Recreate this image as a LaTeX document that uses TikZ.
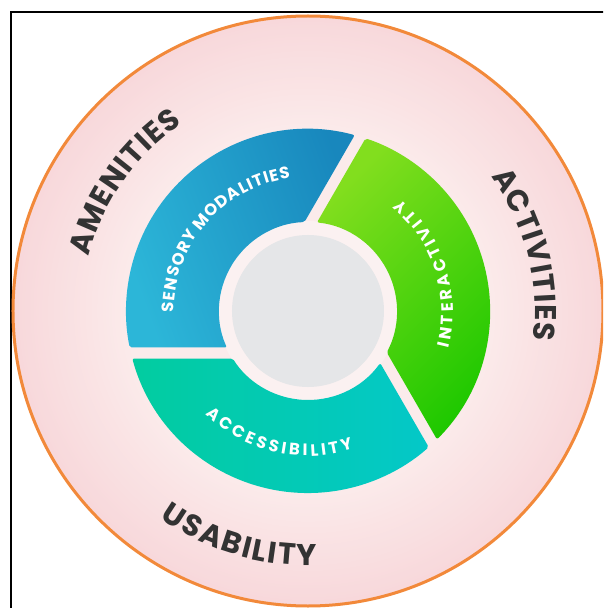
\documentclass[tikz,border=0pt]{standalone}
\usepackage{fontspec}
\setmainfont{Poppins}
\usetikzlibrary{decorations.text}
\definecolor{pinkin}{HTML}{FBEBEB}
\definecolor{pinkout}{HTML}{F8D8DB}
\definecolor{ringorange}{HTML}{F2893A}
\definecolor{paleC}{HTML}{FBF1F1}
\definecolor{grayC}{HTML}{E5E6E8}
\definecolor{blueA}{HTML}{2CB6D8}
\definecolor{blueB}{HTML}{1887BD}
\definecolor{greenA}{HTML}{82DE1E}
\definecolor{greenB}{HTML}{1EC800}
\definecolor{tealA}{HTML}{02CCA0}
\definecolor{tealB}{HTML}{04C8C8}
\definecolor{labeldark}{HTML}{333333}
\tikzset{
  seg/.style={rounded corners=2pt},
  outerlabel/.style={decorate, decoration={text along path, text align=center, text color=labeldark}},
  innerlabel/.style={decorate, decoration={text along path, text align=center, text color=white}}
}
\begin{document}
\begin{tikzpicture}[x=1pt,y=1pt]
\useasboundingbox (-308,-297) rectangle (295,311);
\clip (-308,-297) rectangle (295,311);
\fill[white] (-308,-297) rectangle (295,311);
\draw[black, line width=1.5] (-297,-310) -- (-297,299) -- (300,299);
% outer band, radial gradient by concentric discs
\foreach \i in {0,...,40} {
  \pgfmathsetmacro{\rr}{295-\i*2.9}
  \pgfmathsetmacro{\pp}{\i*2.5}
  \fill[pinkin!\pp!pinkout] (0,0) circle (\rr);
}
\draw[ringorange, line width=3] (0,0) circle (295);
% pale ring
\fill[paleC] (0,0) circle (90);
% segments
\shade[seg, bottom color=blueA, top color=blueB, shading angle=-70]
  (75.13:182) arc[start angle=75.13, end angle=191.57, radius=182]
  -- (204.21:89) arc[start angle=204.21, end angle=92.26, radius=89] -- cycle;
\shade[seg, bottom color=tealA, top color=tealB, shading angle=-90]
  (195.13:182) arc[start angle=195.13, end angle=311.57, radius=182]
  -- (324.21:89) arc[start angle=324.21, end angle=212.26, radius=89] -- cycle;
\shade[seg, bottom color=greenA, top color=greenB, shading angle=-135]
  (315.13:182) arc[start angle=315.13, end angle=431.57, radius=182]
  -- (444.21:89) arc[start angle=444.21, end angle=332.26, radius=89] -- cycle;
% center
\fill[grayC] (0,0) circle (76);
% outer labels
\path[outerlabel, decoration={text={|\bfseries\fontsize{30}{30}\selectfont|{A\kern1pt}{M\kern1pt}{E\kern1pt}{N\kern1pt}{I\kern1pt}{T\kern1pt}{I\kern1pt}{E\kern1pt}{S}}}]
  (185:225.5) arc[start angle=185, end angle=105, radius=225.5];
\path[outerlabel, decoration={text={|\bfseries\fontsize{30}{30}\selectfont|{A\kern1pt}{C\kern1pt}{T\kern1pt}{I\kern1pt}{V\kern1pt}{I\kern1pt}{T\kern1pt}{I\kern1pt}{E\kern1pt}{S}}}]
  (54.5:227) arc[start angle=54.5, end angle=-25.5, radius=227];
\path[outerlabel, decoration={text={|\bfseries\fontsize{30}{30}\selectfont|{U\kern2pt}{S\kern2pt}{A\kern2pt}{B\kern2pt}{I\kern2pt}{L\kern2pt}{I\kern2pt}{T\kern2pt}{Y}}}]
  (213.2:254.5) arc[start angle=213.2, end angle=293.2, radius=254.5];
% inner labels
\path[innerlabel, decoration={text={|\bfseries\fontsize{16.5}{16.5}\selectfont|{S\kern1pt}{E\kern1pt}{N\kern1pt}{S\kern1pt}{O\kern1pt}{R\kern1pt}{Y\kern1pt}{\kern3pt}{M\kern1pt}{O\kern1pt}{D\kern1pt}{A\kern1pt}{L\kern1pt}{I\kern1pt}{T\kern1pt}{I\kern1pt}{E\kern1pt}{S}}}]
  (199:134) arc[start angle=199, end angle=79, radius=134];
\path[innerlabel, decoration={text={|\bfseries\fontsize{16.5}{16.5}\selectfont|{I\kern3.5pt}{N\kern3.5pt}{T\kern3.5pt}{E\kern3.5pt}{R\kern3.5pt}{A\kern3.5pt}{C\kern3.5pt}{T\kern3.5pt}{I\kern3.5pt}{V\kern3.5pt}{I\kern3.5pt}{T\kern3.5pt}{Y}}}]
  (-27.4:145) arc[start angle=-27.4, end angle=62.6, radius=145];
\path[innerlabel, decoration={text={|\bfseries\fontsize{16.5}{16.5}\selectfont|{A\kern3.2pt}{C\kern3.2pt}{C\kern3.2pt}{E\kern3.2pt}{S\kern3.2pt}{S\kern3.2pt}{I\kern3.2pt}{B\kern3.2pt}{I\kern3.2pt}{L\kern3.2pt}{I\kern3.2pt}{T\kern3.2pt}{Y}}}]
  (211.7:145) arc[start angle=211.7, end angle=301.7, radius=145];
\end{tikzpicture}
\end{document}
